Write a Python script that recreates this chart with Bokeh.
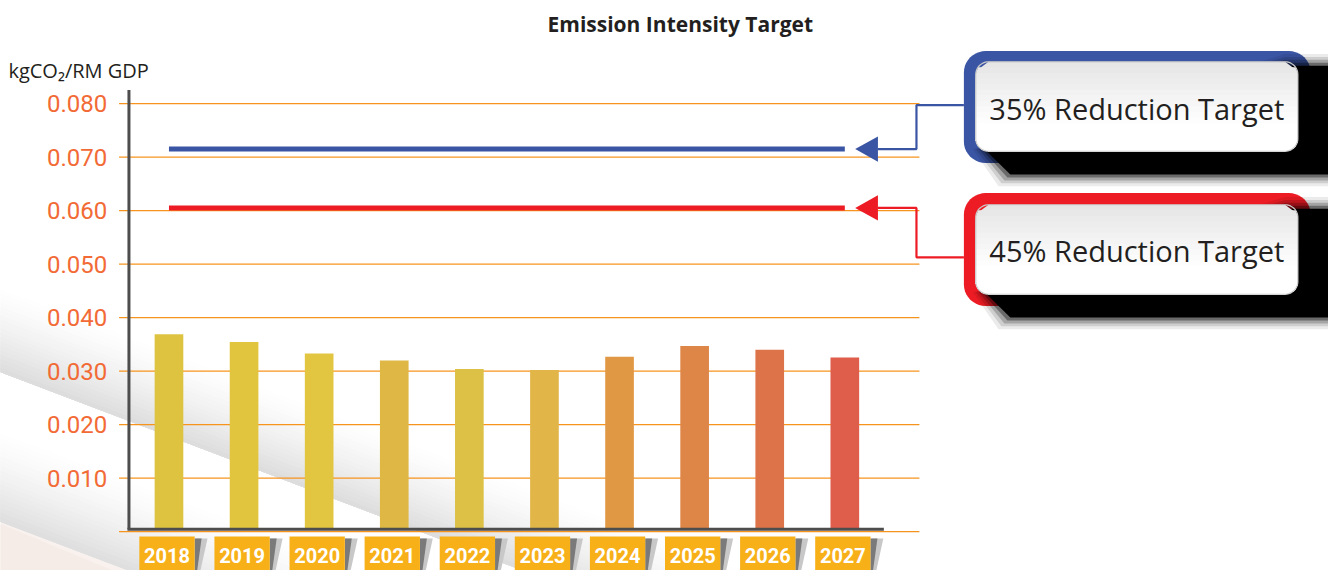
import math
from bokeh.plotting import figure
from bokeh.models import Range1d
from bokeh.core.properties import value
from bokeh.embed import file_html
from bokeh.resources import INLINE

# ---------------- data ----------------
years = ["2018", "2019", "2020", "2021", "2022", "2023", "2024", "2025", "2026", "2027"]
intensity = [0.0369, 0.03545, 0.0333, 0.0320, 0.0304, 0.0302, 0.0327, 0.0347, 0.0340, 0.03255]
bar_colors = ["#DDC340", "#E2C53F", "#E2C540", "#DEB744", "#DDC146",
              "#E1B547", "#E19845", "#DE8647", "#DD7449", "#DE5D4B"]
y_ticks = [0.010, 0.020, 0.030, 0.040, 0.050, 0.060, 0.070, 0.080]
y_tick_labels = ["0.010", "0.020", "0.030", "0.040", "0.050", "0.060", "0.070", "0.080"]
targets = [0.0715, 0.0605]
target_labels = ["35% Reduction Target", "45% Reduction Target"]
target_colors = ["#3A55A4", "#ED1C24"]
title_text = "Emission Intensity Target"
unit_label = "kgCO\u2082/RM GDP"

# ---------------- layout (reference pixels, scaled into the canvas) ----------------
W, H = 1328, 570
REF_W, REF_H = 1344, 586
BAR0, STEP = 170.5, 76.0      # ref x of first category centre, px per category
BASE, PPU = 546.0, 5500.0     # ref y of value 0, px per unit value

def X(px):
    return (px - BAR0) / STEP

def Y(py):
    return (BASE - py) / PPU

p = figure(width=W, height=H, output_backend="svg", toolbar_location=None,
           x_range=Range1d(X(0), X(REF_W)), y_range=Range1d(Y(REF_H), Y(0)),
           x_axis_location=None, y_axis_location=None,
           min_border_left=0, min_border_right=0, min_border_top=0, min_border_bottom=0)
p.outline_line_color = None
p.grid.visible = False
p.background_fill_color = "#FFFFFF"
p.border_fill_color = "#FFFFFF"

def poly(pts):
    return [X(a) for a, b in pts], [Y(b) for a, b in pts]

def grey(level):
    v = max(0, min(255, int(round(level))))
    return "#%02X%02X%02X" % (v, v, v)

# ---------------- background swooshes ----------------
def gradient_band(top0, bot0, slope, x_end, dark, n=20, power=1.4):
    xs_all, ys_all, cols = [], [], []
    for k in range(n):
        f0 = k / n
        t0 = top0 + (bot0 - top0) * f0
        t1 = bot0
        pts = [(-5, t0 - 5 * slope), (x_end, t0 + slope * x_end),
               (x_end, t1 + slope * x_end), (-5, t1 - 5 * slope)]
        xs, ys = poly(pts)
        xs_all.append(xs)
        ys_all.append(ys)
        fm = ((k + 0.5) / n) ** power
        cols.append(grey(255 - (255 - dark) * fm))
    p.patches(xs_all, ys_all, fill_color=cols, line_color=None)

SL = 0.386
bx, by = poly([(-5, 470), (700, 470 + 0.42 * 705), (700, 900), (-5, 900)])
p.patch(bx, by, fill_color="#F8F1EE", line_color=None)
gradient_band(440, 536, SL, 1100, 222)
bx, by = poly([(-5, 536), (700, 536 + 0.42 * 705), (700, 900), (-5, 900)])
p.patch(bx, by, fill_color="#F6ECE7", line_color=None)
gradient_band(292, 382, SL, 1100, 220)

# ---------------- gridlines & axes ----------------
grid_vals = [0.0] + y_ticks
p.segment(x0=[X(120)] * len(grid_vals), x1=[X(930)] * len(grid_vals),
          y0=grid_vals, y1=grid_vals, line_color="#F7941D", line_width=1.4)

p.text(x=[X(108)] * len(y_ticks), y=y_ticks, text=y_tick_labels,
       text_font=value("Roboto"), text_font_size="24px",
       text_color="#F26A35", text_align="right", text_baseline="middle")

bar_x = list(range(len(years)))
p.vbar(x=bar_x, top=intensity, bottom=Y(544), width=29 / STEP,
       fill_color=bar_colors, line_color=None)

p.line(x=[X(130), X(130)], y=[Y(92), Y(543.5)], line_color="#4D4D4D", line_width=3)
p.line(x=[X(128.5), X(894)], y=[Y(543.5), Y(543.5)], line_color="#4D4D4D", line_width=3)

# ---------------- year label boxes ----------------
for i, yr in enumerate(years):
    cx = BAR0 + STEP * i - 2.0
    xr = cx + 28
    sx, sy = poly([(xr, 553), (xr + 13, 553), (xr + 5, 590), (xr, 590)])
    p.patch(sx, sy, fill_color="#C8C8C8", line_color=None)
    sx, sy = poly([(xr, 553), (xr + 7, 553), (xr + 2, 590), (xr, 590)])
    p.patch(sx, sy, fill_color="#7A7A7A", line_color=None)
    bx, by = poly([(cx - 28, 551), (xr, 551), (xr, 592), (cx - 28, 592)])
    p.patch(bx, by, fill_color="#F8B019", line_color=None)
p.text(x=[X(BAR0 + STEP * i - 2.0) for i in range(len(years))], y=[Y(571)] * len(years),
       text=years, text_font=value("Roboto"), text_font_style="bold",
       text_font_size="20px", text_color="#FFFFFF", text_align="center", text_baseline="middle")

# ---------------- target lines ----------------
for tv, col in zip(targets, target_colors):
    p.line(x=[0, len(years) - 1], y=[tv, tv], line_color=col, line_width=5)

# ---------------- callouts ----------------
def rr_pts(x0, y0, x1, y1, r, n=10):
    pts = []
    corners = [(x1 - r, y0 + r, -90, 0), (x1 - r, y1 - r, 0, 90),
               (x0 + r, y1 - r, 90, 180), (x0 + r, y0 + r, 180, 270)]
    for cx, cy, a0, a1 in corners:
        for k in range(n + 1):
            a = math.radians(a0 + (a1 - a0) * k / n)
            pts.append((cx + r * math.cos(a), cy + r * math.sin(a)))
    return pts

def rr_band(x0, y0, x1, y1, r, ya, yb, m=10):
    def xl(y):
        if y < y0 + r:
            d = y0 + r - y
            return x0 + r - math.sqrt(max(r * r - d * d, 0))
        if y > y1 - r:
            d = y - (y1 - r)
            return x0 + r - math.sqrt(max(r * r - d * d, 0))
        return x0
    ys = [ya + (yb - ya) * k / m for k in range(m + 1)]
    if ya < y1 - r < yb:
        ys = sorted(set(ys + [y1 - r + (r * k / 8) for k in range(9)] + [y1 - r]))
        ys = [y for y in ys if ya <= y <= yb]
    left = [(xl(y), y) for y in ys]
    right = [(x1 - (xl(y) - x0), y) for y in reversed(ys)]
    return left + right

boxes = [(52, 63, 155), (198, 210, 302)]   # outer top, inner top, inner bottom
text_y = [111, 257.5]
conn_paths = [[(888, None), (927, None), (927, 107.5), (975, 107.5)],
              [(888, None), (927, None), (927, 264), (975, 264)]]

for (otop, itop, ibot), tv, col, lab, ty, path in zip(boxes, targets, target_colors,
                                                      target_labels, text_y, conn_paths):
    ly = BASE - tv * PPU
    ax, ay = poly([(865, ly), (888, ly - 13), (888, ly + 13)])
    p.patch(ax, ay, fill_color=col, line_color=None)
    pts = [(a, ly if b is None else b) for a, b in path]
    cxs, cys = poly(pts)
    p.line(cxs, cys, line_color=col, line_width=2.2)
    ox, oy = poly(rr_pts(975, otop, 1326, ibot + 12, 22))
    p.patch(ox, oy, fill_color=col, line_color=None)
    for e, al in [(12, 0.08), (9, 0.12), (6, 0.2), (3, 0.35), (0, 1.0)]:
        sx, sy = poly([(1300, itop + 4 - e), (1360, itop + 4 - e), (1360, ibot + 24 + e),
                       (1022 - e, ibot + 24 + e), (996 - e, ibot - 2)])
        p.patch(sx, sy, fill_color="#000000", fill_alpha=al, line_color=None)
    ix0, ix1 = 987, 1313
    nb = 16
    xs_all, ys_all, cols = [], [], []
    for k in range(nb):
        ya = itop + (ibot - itop) * k / nb
        f = (k + 0.5) / nb
        lvl = 229 + (255 - 229) * min(1.0, f / 0.7)
        bx, by = poly(rr_band(ix0, itop, ix1, ibot, 13, ya, ibot))
        xs_all.append(bx)
        ys_all.append(by)
        cols.append(grey(lvl))
    p.patches(xs_all, ys_all, fill_color=cols, line_color=None)
    bx, by = poly(rr_pts(ix0, itop, ix1, ibot, 13))
    p.patch(bx, by, fill_color=None, line_color="#C9C9C9", line_width=1.2)
    p.text(x=[X(1150)], y=[Y(ty)], text=[lab], text_font=value("Open Sans"),
           text_font_size="29px", text_color="#231F20", text_align="center",
           text_baseline="middle")

# ---------------- titles ----------------
p.text(x=[X(688)], y=[Y(24)], text=[title_text], text_font=value("Open Sans"),
       text_font_style="bold", text_font_size="21px", text_color="#231F20",
       text_align="center", text_baseline="middle")
p.text(x=[X(8)], y=[Y(72)], text=[unit_label], text_font=value("Open Sans"),
       text_font_size="20px", text_color="#231F20", text_align="left",
       text_baseline="alphabetic")

open("out.html", "w").write(file_html(p, INLINE))
